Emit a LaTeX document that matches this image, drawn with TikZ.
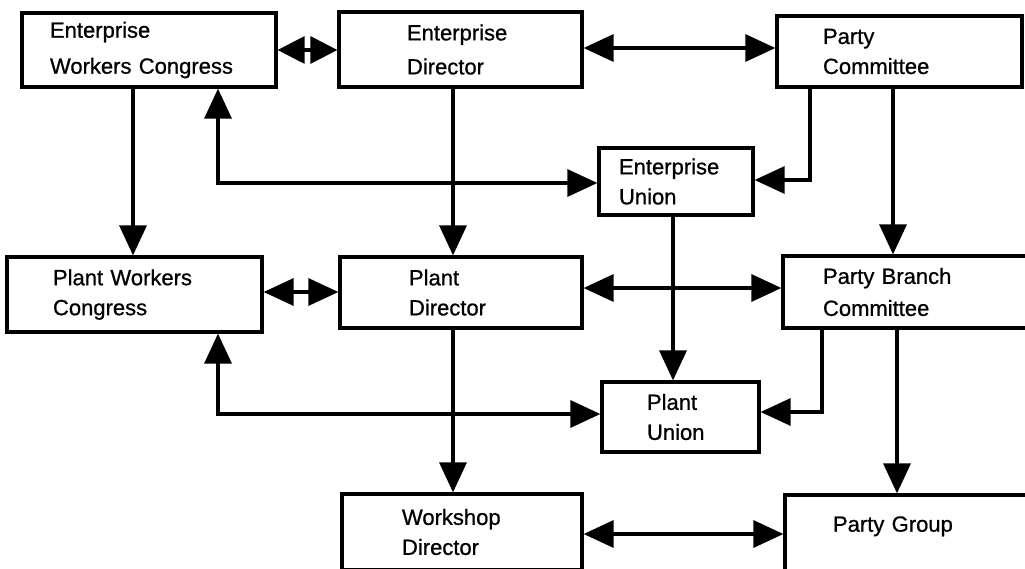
\documentclass[tikz,border=0pt]{standalone}
\usepackage{fontspec}
\setmainfont{Liberation Sans}[FakeBold=0.8]
\usetikzlibrary{arrows.meta}
\begin{document}
\begin{tikzpicture}[x=1pt,y=-1pt,
  box/.style={draw, line width=3.2pt, rectangle, align=left, inner ysep=0pt,
    font=\fontsize{22pt}{30pt}\selectfont},
  conn/.style={line width=3.2pt, -{Triangle[length=30pt,width=27pt]}},
  dconn/.style={line width=3.2pt, {Triangle[length=30pt,width=27pt]}-{Triangle[length=30pt,width=27pt]}},
  sdconn/.style={line width=3.2pt, {Triangle[length=27pt,width=27pt]}-{Triangle[length=27pt,width=27pt]}}]
\useasboundingbox (0,0) rectangle (1025,568);
\clip (0,0) rectangle (1025,568);

% boxes
\node[box, minimum width=254pt, minimum height=74pt, inner xsep=28pt, text width=198pt,
  font=\fontsize{22pt}{36pt}\selectfont] (ewc) at (149,50) {Enterprise\\Workers Congress};
\node[box, minimum width=243pt, minimum height=75pt, inner xsep=68pt, text width=107pt,
  font=\fontsize{22pt}{34pt}\selectfont] (ed) at (460.5,49.5) {Enterprise\\Director};
\node[box, minimum width=245pt, minimum height=71pt, inner xsep=46pt, text width=153pt] (pc) at (899.5,51.5) {Party\\Committee};
\node[box, minimum width=154pt, minimum height=67pt, inner xsep=20pt, text width=114pt] (eu) at (676,181.5) {Enterprise\\Union};
\node[box, minimum width=255pt, minimum height=75pt, inner xsep=46pt, text width=163pt] (pwc) at (134.5,294.5) {Plant Workers\\Congress};
\node[box, minimum width=242pt, minimum height=71pt, inner xsep=69pt, text width=104pt] (pd) at (461,292.5) {Plant\\Director};
\node[box, minimum width=257pt, minimum height=72pt, inner xsep=40pt, text width=177pt,
  font=\fontsize{22pt}{32pt}\selectfont] (pbc) at (911.5,292) {Party Branch\\Committee};
\node[box, minimum width=157pt, minimum height=70pt, inner xsep=45pt, text width=67pt] (pu) at (680.5,417) {Plant\\Union};
\node[box, minimum width=240pt, minimum height=76pt, inner xsep=60pt, text width=120pt] (wd) at (462,532) {Workshop\\Director};
\node[box, minimum width=260pt, minimum height=88pt, inner xsep=48pt, text width=164pt, text depth=30pt] (pg) at (915,539) {Party Group};

% guide coordinates
\coordinate (x133) at (133,0);
\coordinate (x218) at (218,0);
\coordinate (x453) at (453,0);
\coordinate (x673) at (673,0);
\coordinate (x810) at (810,0);
\coordinate (x822) at (822,0);
\coordinate (x893) at (893,0);
\coordinate (x897) at (897,0);
\coordinate (y48) at (0,48);
\coordinate (y180) at (0,180);
\coordinate (y183) at (0,183);
\coordinate (y288) at (0,288);
\coordinate (y292) at (0,292);
\coordinate (y412) at (0,412);
\coordinate (y414) at (0,414);
\coordinate (y534) at (0,534);

% connectors
\draw[sdconn] (ewc.east) -- (ewc.east -| ed.west);
\draw[dconn] (ed.east |- y48) -- (pc.west |- y48);
\draw[conn] (ewc.south -| x133) -- (pwc.north -| x133);
\draw[dconn] (ewc.south -| x218) |- (eu.west |- y183);
\draw[conn] (ed.south -| x453) -- (pd.north -| x453);
\draw[conn] (pc.south -| x810) |- (eu.east |- y180);
\draw[conn] (pc.south -| x893) -- (pbc.north -| x893);
\draw[conn] (eu.south -| x673) -- (pu.north -| x673);
\draw[dconn] (pwc.east |- y292) -- (pd.west |- y292);
\draw[dconn] (pd.east |- y288) -- (pbc.west |- y288);
\draw[dconn] (pwc.south -| x218) |- (pu.west |- y414);
\draw[conn] (pbc.south -| x822) |- (pu.east |- y412);
\draw[conn] (pbc.south -| x897) -- (pg.north -| x897);
\draw[conn] (pd.south -| x453) -- (wd.north -| x453);
\draw[dconn] (wd.east |- y534) -- (pg.west |- y534);
\end{tikzpicture}
\end{document}
